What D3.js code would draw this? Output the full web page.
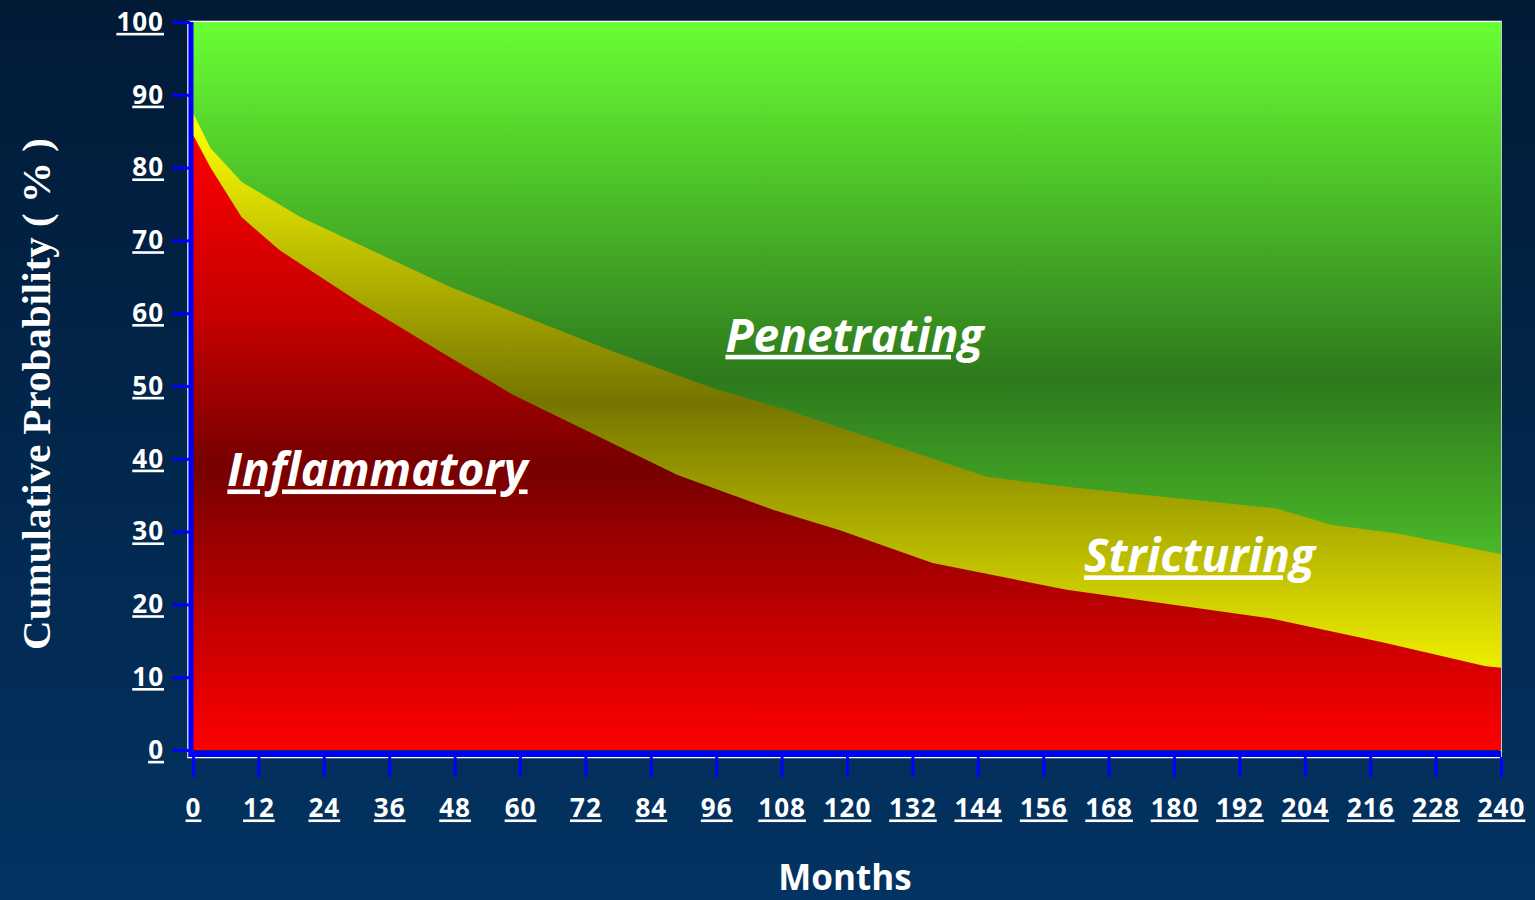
<!DOCTYPE html>
<meta charset="utf-8">

<head>
  <style>
    body {
      margin: 0;
      overflow: hidden;
    }

    .tick-label {
      fill: #fff;
      font: bold 26px "Open Sans", sans-serif;
      letter-spacing: 1px;
      text-decoration: underline;
    }

    .area-label {
      fill: #fff;
      font: italic bold 46px "Open Sans", sans-serif;
      text-decoration: underline;
    }
  </style>
</head>

<body>
  <script src="https://d3js.org/d3.v7.min.js"></script>

  <div id="chart"></div>

  <script>

    // values: month -> cumulative %
    var redMonths = [0, 3.2, 8.9, 15.8, 30.7, 45.9, 58.7, 88.8, 106.4, 118.7, 135.7, 160.3, 197.5, 218.2, 237.2, 240];
    var redValues = [84.5, 80, 73.2, 68.7, 61.4, 54.5, 48.8, 37.8, 33, 30.2, 25.7, 22, 18.1, 14.8, 11.5, 11.3];

    var yellowMonths = [0, 3.2, 9, 19.7, 47.2, 76.5, 95.4, 109, 145.8, 162.3, 198.7, 209, 221.3, 240];
    var yellowValues = [87.5, 82.7, 78, 73.2, 63.6, 54.9, 49.7, 46.7, 37.5, 36, 33.2, 30.9, 29.7, 26.9];

    var xTicks = d3.range(0, 241, 12);
    var yTicks = d3.range(0, 101, 10);

    var labels = [
      { text: "Inflammatory", month: 6.3, value: 36.2 },
      { text: "Penetrating", month: 97.7, value: 54.7 },
      { text: "Stricturing", month: 163.5, value: 24.4 }
    ];

    var width = 1535,
      height = 900;

    var x = d3.scaleLinear().domain([0, 240]).range([193, 1501]);
    var y = d3.scaleLinear().domain([0, 100]).range([750, 22]);

    var svg = d3.select('#chart')
      .append('svg')
      .attr('width', width)
      .attr('height', height);

    var defs = svg.append('defs');

    var bg = defs.append('linearGradient')
      .attr('id', 'bg')
      .attr('x1', 0).attr('y1', 0).attr('x2', 0).attr('y2', 1);
    bg.append('stop').attr('offset', '0%').attr('stop-color', '#011a36');
    bg.append('stop').attr('offset', '100%').attr('stop-color', '#033362');

    // vertical gradients over the plot area: light at top and bottom, dark in the middle
    function bandGradient(id, stops) {
      var g = defs.append('linearGradient')
        .attr('id', id)
        .attr('gradientUnits', 'userSpaceOnUse')
        .attr('x1', 0).attr('y1', y(100)).attr('x2', 0).attr('y2', y(0));
      stops.forEach(function (s) {
        g.append('stop').attr('offset', s[0]).attr('stop-color', s[1]);
      });
    }
    bandGradient('green', [['0%', '#69ff33'], ['49%', '#2e791d'], ['100%', '#69ff33']]);
    bandGradient('yellow', [['0%', '#ffff00'], ['14%', '#ffff00'], ['52%', '#757500'], ['90%', '#f2f200'], ['100%', '#ffff00']]);
    bandGradient('red', [['0%', '#ff0000'], ['20%', '#f20000'], ['40%', '#c80000'], ['61%', '#760000'], ['100%', '#ff0000']]);

    svg.append('rect')
      .attr('width', width)
      .attr('height', height)
      .attr('fill', 'url(#bg)');

    // plot frame
    svg.append('rect')
      .attr('x', 188)
      .attr('y', y(100) - 0.5)
      .attr('width', x(240) - 188)
      .attr('height', 758 - y(100))
      .attr('fill', 'none')
      .attr('stroke', '#fff')
      .attr('stroke-width', 1.5);

    var g = svg.append('g');

    g.append('rect')
      .attr('x', x(0))
      .attr('y', y(100))
      .attr('width', x(240) - x(0))
      .attr('height', y(0) - y(100))
      .attr('fill', 'url(#green)');

    var area = d3.area()
      .x(d => x(d[0]))
      .y0(y(0))
      .y1(d => y(d[1]));

    g.append('path')
      .attr('d', area(d3.zip(yellowMonths, yellowValues)))
      .attr('fill', 'url(#yellow)');

    g.append('path')
      .attr('d', area(d3.zip(redMonths, redValues)))
      .attr('fill', 'url(#red)');

    // axis lines
    svg.append('rect')
      .attr('x', 188.5).attr('y', y(100))
      .attr('width', 5).attr('height', 757 - y(100))
      .attr('fill', '#0000ff');
    svg.append('rect')
      .attr('x', 188.5).attr('y', 751)
      .attr('width', x(240) - 188.5).attr('height', 6)
      .attr('fill', '#0000ff');

    var yAxis = svg.append('g')
      .attr('transform', 'translate(190,0)')
      .call(d3.axisLeft(y).tickValues(yTicks).tickSizeInner(18).tickSizeOuter(0).tickPadding(8));

    var xAxis = svg.append('g')
      .attr('transform', 'translate(0,757)')
      .call(d3.axisBottom(x).tickValues(xTicks).tickSizeInner(20).tickSizeOuter(0).tickPadding(22));

    [xAxis, yAxis].forEach(function (ax) {
      ax.attr('font-family', null).attr('font-size', null);
      ax.select('.domain').remove();
      ax.selectAll('.tick line')
        .attr('stroke', '#0000ff')
        .attr('stroke-width', 3);
      ax.selectAll('.tick text')
        .attr('class', 'tick-label')
        .attr('fill', null);
    });

    // area names
    svg.selectAll('.area-label')
      .data(labels)
      .enter()
      .append('text')
      .attr('class', 'area-label')
      .attr('x', d => x(d.month))
      .attr('y', d => y(d.value))
      .text(d => d.text);

    svg.append('text')
      .attr('x', 845)
      .attr('y', 890)
      .attr('text-anchor', 'middle')
      .attr('fill', '#fff')
      .style('font', 'bold 35px "Open Sans", sans-serif')
      .text('Months');

    svg.append('text')
      .attr('transform', 'translate(50,394) rotate(-90)')
      .attr('text-anchor', 'middle')
      .attr('fill', '#fff')
      .style('font', 'bold 41px "Liberation Serif", serif')
      .text('Cumulative Probability ( % )');
  </script>
</body>
